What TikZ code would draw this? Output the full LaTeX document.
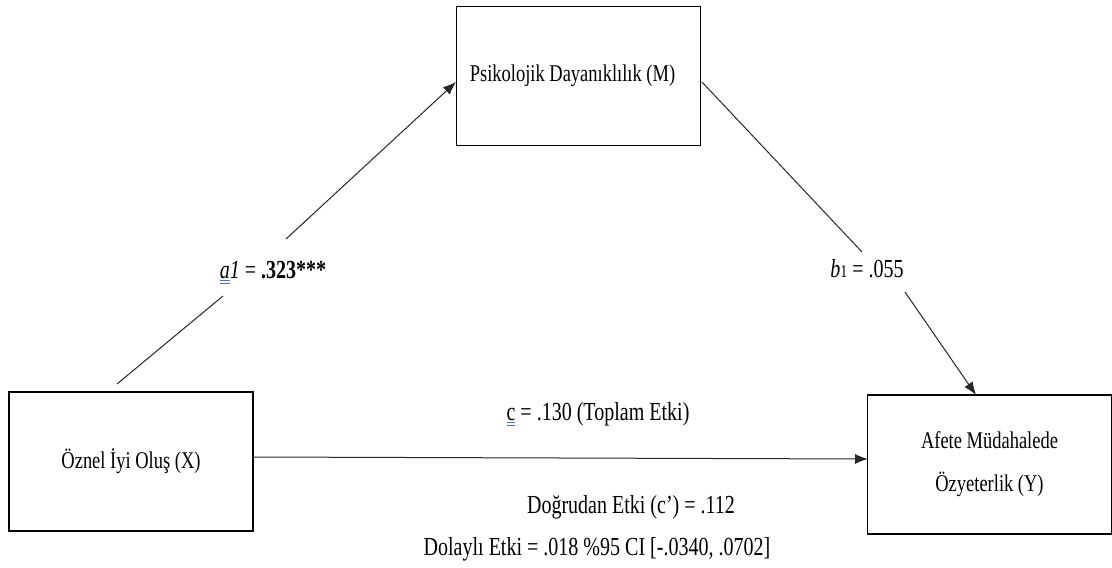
\documentclass[tikz,border=0pt]{standalone}
\usepackage{fontspec}
\setmainfont[FakeStretch=0.77]{Liberation Serif}
\usetikzlibrary{arrows.meta}
\definecolor{ulblue}{RGB}{68,114,196}
\newcommand\dblul[1]{\leavevmode\setbox0\hbox{#1}\rlap{\color{ulblue}\rule[-3pt]{\wd0}{0.9pt}}\rlap{\color{ulblue}\rule[-5.5pt]{\wd0}{0.9pt}}\box0\relax}
\begin{document}
\begin{tikzpicture}[x=1pt,y=-1pt,
  varbox/.style={draw=black,line width=1.6pt,minimum width=244pt,minimum height=139pt,inner sep=0pt,font=\fontsize{24}{43}\selectfont,align=center},
  conn/.style={draw=black!85,line width=1pt},
  arr/.style={conn,-{Latex[length=13pt,width=10pt]}},
  lbl/.style={anchor=base,inner sep=0pt,font=\fontsize{26}{30}\selectfont}]
\useasboundingbox (0,0) rectangle (1112,568);
\node[varbox] (M) at (578.5,76) {Psikolojik Dayanıklılık (M)\hspace*{12pt}};
\node[varbox] (X) at (131,461.5) {Öznel İyi Oluş (X)};
\node[varbox] (Y) at (989.5,464.5) {Afete Müdahalede\\Özyeterlik (Y)};
% X -> M
\coordinate (xa) at (117,384);
\coordinate (xb) at (223,296);
\coordinate (xc) at (286,239);
\coordinate (xm) at (456,82);
\draw[conn] (xa) -- (xb);
\draw[arr] (xc) -- (xm);
% M -> Y
\coordinate (ma) at (702,82);
\coordinate (mb) at (862,252);
\coordinate (mc) at (905,292);
\coordinate (my) at (976,395);
\draw[conn] (ma) -- (mb);
\draw[arr] (mc) -- (my);
% X -> Y
\coordinate (xr) at (254,457);
\coordinate (yl) at (868,459);
\draw[arr] (xr) -- (yl);
% labels
\node[lbl] (la) at (273,278) {\dblul{\textit{a}}\textit{1} = \textbf{.323***}};
\node[lbl] (lb) at (867,277) {\textit{b}{\fontsize{18}{18}\selectfont 1} = .055};
\node[lbl] (lc) at (598,420) {\dblul{c} = .130 (Toplam Etki)};
\node[lbl] (ld) at (631,513) {Doğrudan Etki (c’) = .112};
\node[lbl] (le) at (597,555) {Dolaylı Etki = .018 \%95 CI [-.0340, .0702]};
\end{tikzpicture}
\end{document}
